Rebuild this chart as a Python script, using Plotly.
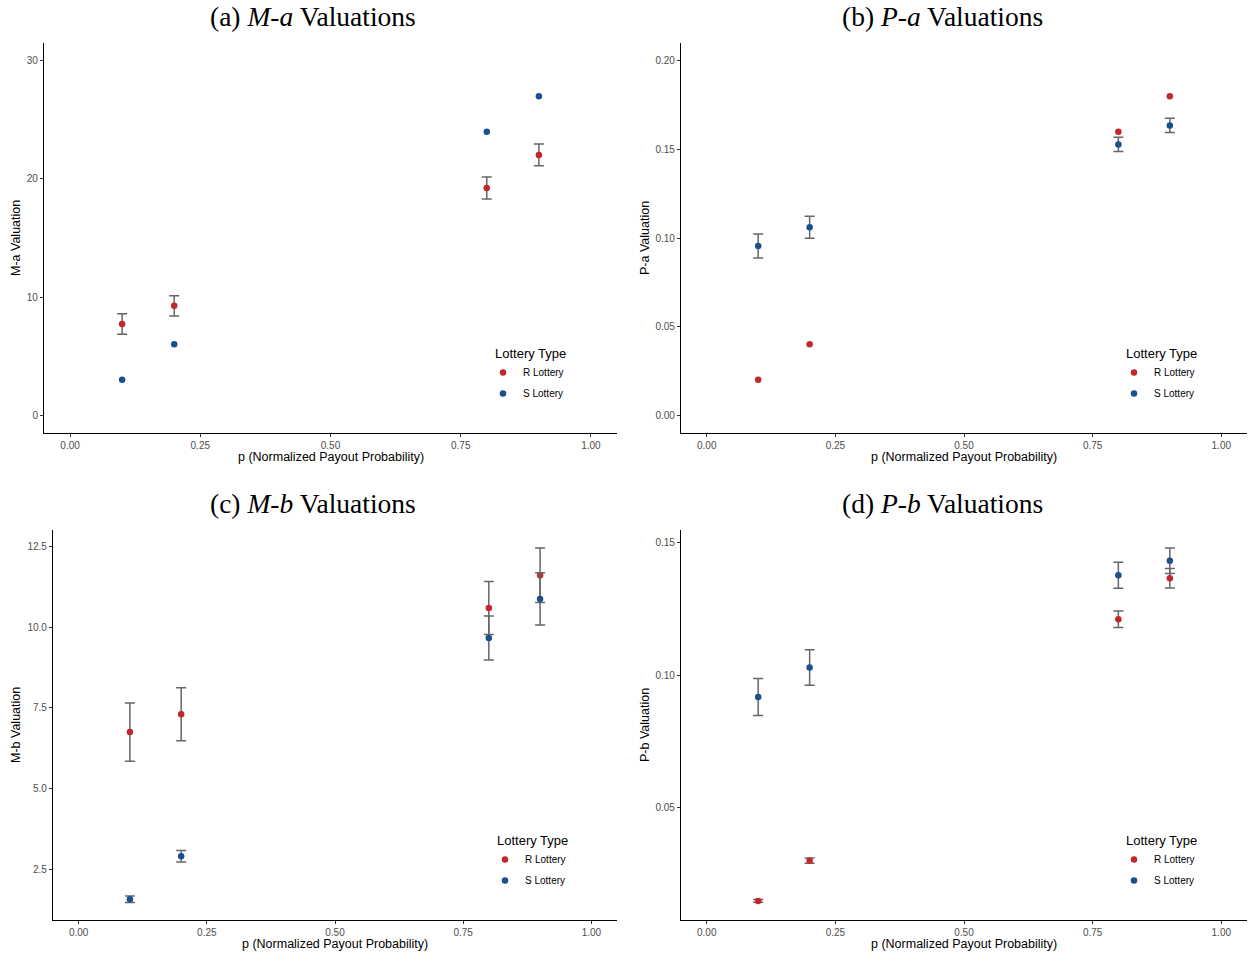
import plotly.graph_objects as go

W, H = 1248, 956

# ---------------- data ----------------
p = [0.1, 0.2, 0.8, 0.9]
series_names = ["R Lottery", "S Lottery"]

ma_r = [7.72, 9.26, 19.24, 22.03]
ma_r_err = [0.87, 0.86, 0.93, 0.92]
ma_s = [3.0, 6.0, 24.0, 27.0]
ma_s_err = [None, None, None, None]

pa_r = [0.02, 0.04, 0.16, 0.18]
pa_r_err = [None, None, None, None]
pa_s = [0.0955, 0.1061, 0.1528, 0.1635]
pa_s_err = [0.0068, 0.0062, 0.0040, 0.0040]

mb_r = [6.75, 7.30, 10.59, 11.60]
mb_r_err = [0.90, 0.82, 0.82, 0.84]
mb_s = [1.58, 2.91, 9.66, 10.87]
mb_s_err = [0.10, 0.18, 0.68, 0.81]

pb_r = [0.0147, 0.0299, 0.1211, 0.1366]
pb_r_err = [0.0005, 0.0010, 0.0031, 0.0037]
pb_s = [0.0917, 0.1029, 0.1377, 0.1432]
pb_s_err = [0.0070, 0.0067, 0.0049, 0.0048]

x_ticks = [0.0, 0.25, 0.5, 0.75, 1.0]
x_ticklabels = ["0.00", "0.25", "0.50", "0.75", "1.00"]

panel_titles = ["(a) <i>M</i>-<i>a</i> Valuations", "(b) <i>P</i>-<i>a</i> Valuations",
                "(c) <i>M</i>-<i>b</i> Valuations", "(d) <i>P</i>-<i>b</i> Valuations"]
y_titles = ["M-a Valuation", "P-a Valuation", "M-b Valuation", "P-b Valuation"]
x_title = "p (Normalized Payout Probability)"

ma_yticks = [0, 10, 20, 30]; ma_ylabels = ["0", "10", "20", "30"]
pa_yticks = [0.0, 0.05, 0.10, 0.15, 0.20]; pa_ylabels = ["0.00", "0.05", "0.10", "0.15", "0.20"]
mb_yticks = [2.5, 5.0, 7.5, 10.0, 12.5]; mb_ylabels = ["2.5", "5.0", "7.5", "10.0", "12.5"]
pb_yticks = [0.05, 0.10, 0.15]; pb_ylabels = ["0.05", "0.10", "0.15"]

# ---------------- styling ----------------
RED = "#C1272D"
BLUE = "#1A508B"
ERR = "#666666"
SANS = "Liberation Sans, Arial, sans-serif"
SERIF = "Liberation Serif, Times New Roman, serif"

# panel plot-area pixel boxes (x0, x1, y0_top, y1_bottom)
boxes = [(44, 617, 43, 433), (681, 1247, 43, 433),
         (53, 617, 530, 920), (681, 1247, 530, 920)]
yranges = [[-1.5, 31.5], [-0.01, 0.21], [0.94, 13.0], [0.0075, 0.1548]]
legend_px = [(493, 341), (1124, 341), (495, 828), (1124, 828)]
panels = [
    (ma_r, ma_r_err, ma_s, ma_s_err, ma_yticks, ma_ylabels),
    (pa_r, pa_r_err, pa_s, pa_s_err, pa_yticks, pa_ylabels),
    (mb_r, mb_r_err, mb_s, mb_s_err, mb_yticks, mb_ylabels),
    (pb_r, pb_r_err, pb_s, pb_s_err, pb_yticks, pb_ylabels),
]

fig = go.Figure()
layout = dict(width=W, height=H, margin=dict(l=0, r=0, t=0, b=0),
              paper_bgcolor="white", plot_bgcolor="white", showlegend=True)
annotations = []

for i, (r_vals, r_err, s_vals, s_err, yt, yl) in enumerate(panels):
    k = "" if i == 0 else str(i + 1)
    x0, x1, yt0, yb1 = boxes[i]
    xdom = [x0 / W, x1 / W]
    ydom = [1 - yb1 / H, 1 - yt0 / H]
    leg = "legend" + k
    for name, vals, err, col in ((series_names[0], r_vals, r_err, RED),
                                 (series_names[1], s_vals, s_err, BLUE)):
        has_err = any(e is not None for e in err)
        fig.add_trace(go.Scatter(
            x=p, y=vals, mode="markers", name=name,
            marker=dict(color=col, size=6.5),
            error_y=dict(type="data", array=[e if e is not None else 0 for e in err],
                         visible=has_err, color=ERR, thickness=1.5, width=5),
            xaxis="x" + k, yaxis="y" + k, legend=leg, legendgroup=name + k,
        ))
    axis_common = dict(showline=True, linecolor="black", linewidth=1.1,
                       ticks="outside", ticklen=3, tickcolor="#333333", tickwidth=1,
                       showgrid=False, zeroline=False,
                       tickfont=dict(family=SANS, size=10, color="#4D4D4D"))
    layout["xaxis" + k] = dict(domain=xdom, range=[-0.05, 1.05], tickvals=x_ticks,
                               ticktext=x_ticklabels, anchor="y" + k, **axis_common)
    layout["yaxis" + k] = dict(domain=ydom, range=yranges[i], tickvals=yt,
                               ticktext=yl, anchor="x" + k, **axis_common)
    # legend inside the panel
    lx, ly = legend_px[i]
    layout[leg] = dict(x=lx / W, y=1 - ly / H, xanchor="left", yanchor="top",
                       bgcolor="rgba(0,0,0,0)",
                       title=dict(text="Lottery Type", font=dict(family=SANS, size=13, color="black")),
                       font=dict(family=SANS, size=10, color="black"),
                       itemsizing="trace", indentation=-10, tracegroupgap=2,
                       traceorder="grouped")
    # panel title
    cx = 313 if i in (0, 2) else 942
    cy = 16 if i < 2 else 503
    annotations.append(dict(text=panel_titles[i], x=cx / W, y=1 - cy / H, xref="paper", yref="paper",
                            xanchor="center", yanchor="middle", showarrow=False,
                            font=dict(family=SERIF, size=27.5, color="black")))
    # y axis title
    yx = 16 if i in (0, 2) else 645
    annotations.append(dict(text=y_titles[i], x=yx / W, y=1 - ((yt0 + yb1) / 2) / H,
                            xref="paper", yref="paper", xanchor="center", yanchor="middle",
                            textangle=-90, showarrow=False,
                            font=dict(family=SANS, size=12.5, color="black")))
    # x axis title
    annotations.append(dict(text=x_title, x=((x0 + x1) / 2) / W, y=1 - (yb1 + 24) / H,
                            xref="paper", yref="paper", xanchor="center", yanchor="middle",
                            showarrow=False, font=dict(family=SANS, size=12.5, color="black")))

layout["annotations"] = annotations
fig.update_layout(**layout)
fig.write_html("out.html")
